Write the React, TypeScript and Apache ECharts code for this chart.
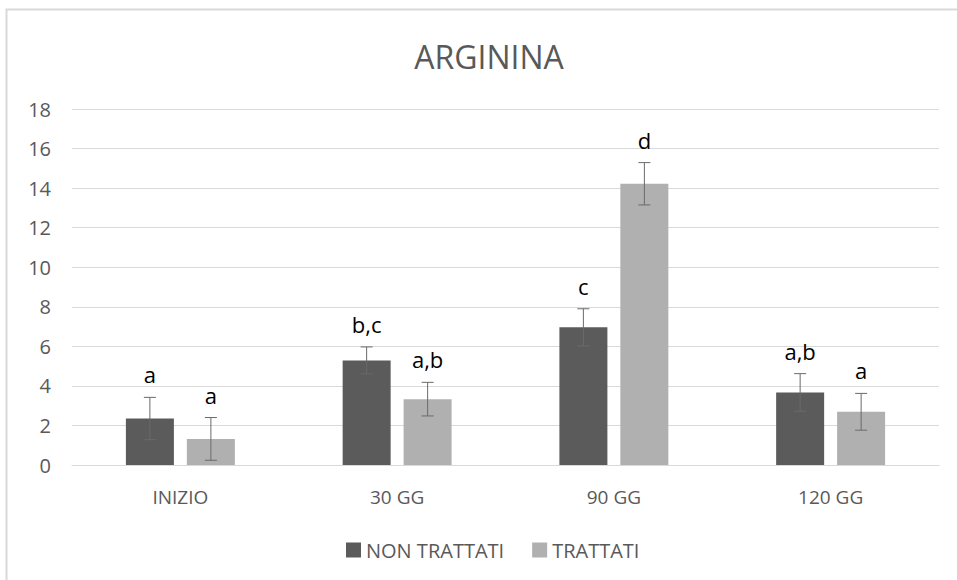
import React, { useEffect, useRef } from "react";
import * as echarts from "echarts";

// Arginina: mean values per sampling time, with standard error and significance letters
const categories = ["INIZIO", "30 GG", "90 GG", "120 GG"];
const seriesNames = ["NON TRATTATI", "TRATTATI"];
const nonTrattati = [2.35, 5.29, 6.96, 3.67];
const nonTrattatiErr = [1.07, 0.68, 0.94, 0.95];
const nonTrattatiLetters = ["a", "b,c", "c", "a,b"];
const trattati = [1.32, 3.33, 14.22, 2.69];
const trattatiErr = [1.08, 0.85, 1.07, 0.93];
const trattatiLetters = ["a", "a,b", "d", "a"];
const yMin = 0;
const yMax = 18;
const yStep = 2;

const FONT = "'Open Sans', 'Noto Sans', sans-serif";
const DARK = "#5b5b5b";
const LIGHT = "#b0b0b0";
const GRID = "#d9d9d9";
const TEXT = "#595959";
const BAR_W = 48;
const BAR_GAP = 13;

function errorSeries(values: number[], errs: number[], letters: string[], side: number) {
  const offset = (side * (BAR_W + BAR_GAP)) / 2;
  return {
    type: "custom",
    silent: true,
    z: 5,
    encode: { x: 0, y: 1 },
    data: values.map((v, i) => [i, v, errs[i]]),
    renderItem: (params: any, api: any) => {
      const cat = api.value(0);
      const v = api.value(1);
      const e = api.value(2);
      const top = api.coord([cat, v + e]);
      const bot = api.coord([cat, v - e]);
      const x = top[0] + offset;
      const ls = { stroke: "#6a6a6a", lineWidth: 1 };
      return {
        type: "group",
        children: [
          { type: "line", shape: { x1: x, y1: top[1], x2: x, y2: bot[1] }, style: ls },
          { type: "line", shape: { x1: x - 6, y1: top[1], x2: x + 6, y2: top[1] }, style: ls },
          { type: "line", shape: { x1: x - 6, y1: bot[1], x2: x + 6, y2: bot[1] }, style: ls },
          {
            type: "text",
            x: x,
            y: top[1] - 12,
            style: {
              text: letters[params.dataIndex],
              align: "center",
              verticalAlign: "bottom",
              textAlign: "center",
              textVerticalAlign: "bottom",
              fontSize: 22,
              fontFamily: FONT,
              fill: "#000000",
            },
          },
        ],
      };
    },
  };
}

export default function App() {
  const ref = useRef<HTMLDivElement>(null);

  useEffect(() => {
    if (!ref.current) return;
    const chart = echarts.init(ref.current, undefined, { renderer: "svg" });
    chart.setOption({
      animation: false,
      backgroundColor: "#ffffff",
      textStyle: { fontFamily: FONT },
      graphic: [
        {
          type: "rect",
          shape: { x: 6.5, y: 9.5, width: 1000, height: 700 },
          style: { fill: "none", stroke: GRID, lineWidth: 2 },
          silent: true,
        },
        {
          type: "text",
          x: 489,
          y: 56,
          style: {
            text: "ARGININA",
            align: "center",
            verticalAlign: "middle",
            textAlign: "center",
            textVerticalAlign: "middle",
            fontSize: 32,
            fontFamily: FONT,
            fill: TEXT,
          },
        },
      ],
      grid: { left: 72, right: 18, top: 109, bottom: 115, containLabel: false },
      legend: {
        data: seriesNames,
        left: 341,
        top: 535,
        icon: "rect",
        itemWidth: 15,
        itemHeight: 15,
        itemGap: 28,
        textStyle: { fontSize: 20, color: TEXT, fontFamily: FONT },
      },
      xAxis: {
        type: "category",
        data: categories,
        axisLine: { lineStyle: { color: GRID, width: 1 } },
        axisTick: { show: false },
        axisLabel: { fontSize: 19, color: TEXT, margin: 22, fontFamily: FONT },
      },
      yAxis: {
        type: "value",
        min: yMin,
        max: yMax,
        interval: yStep,
        axisLine: { show: false },
        axisTick: { show: false },
        axisLabel: { fontSize: 20, color: TEXT, margin: 21, fontFamily: FONT },
        splitLine: { lineStyle: { color: GRID, width: 1 } },
      },
      series: [
        {
          name: seriesNames[0],
          type: "bar",
          data: nonTrattati,
          barWidth: BAR_W,
          barGap: `${Math.round((BAR_GAP / BAR_W) * 100)}%`,
          itemStyle: { color: DARK },
        },
        {
          name: seriesNames[1],
          type: "bar",
          data: trattati,
          barWidth: BAR_W,
          itemStyle: { color: LIGHT },
        },
        errorSeries(nonTrattati, nonTrattatiErr, nonTrattatiLetters, -1),
        errorSeries(trattati, trattatiErr, trattatiLetters, 1),
      ],
    });
    return () => chart.dispose();
  }, []);

  return (
    <div
      ref={ref}
      style={{ position: "fixed", left: 0, top: 0, width: 957, height: 580 }}
    />
  );
}
